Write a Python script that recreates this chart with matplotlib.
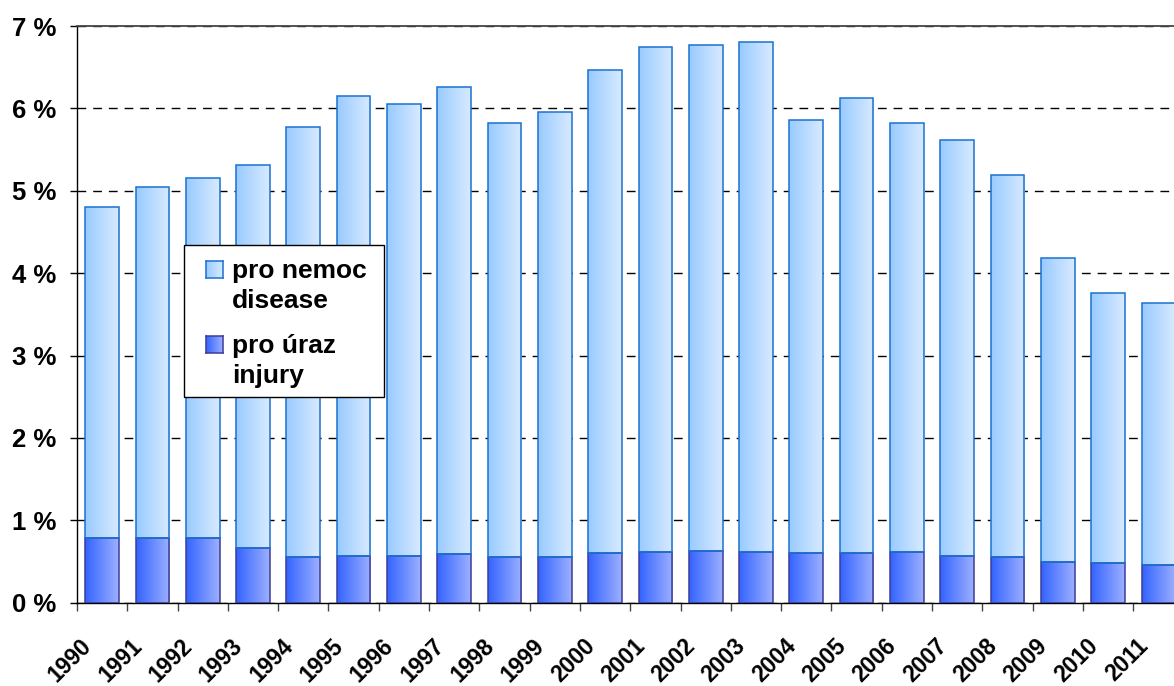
import numpy as np
import matplotlib
matplotlib.use("Agg")
import matplotlib.pyplot as plt
from matplotlib.colors import LinearSegmentedColormap
from matplotlib.patches import Rectangle
from matplotlib.ticker import FixedLocator, FuncFormatter
from matplotlib.transforms import ScaledTranslation

plt.rcParams['font.family'] = ['Liberation Sans', 'DejaVu Sans']

# data (% of working time)
years = [str(y) for y in range(1990, 2012)]
injury = [0.79, 0.79, 0.78, 0.66, 0.56, 0.57, 0.57, 0.59, 0.56, 0.56, 0.60,
          0.61, 0.63, 0.62, 0.60, 0.60, 0.62, 0.57, 0.55, 0.50, 0.48, 0.46]
disease = [4.01, 4.25, 4.37, 4.65, 5.21, 5.58, 5.48, 5.67, 5.26, 5.40, 5.86,
           6.14, 6.14, 6.19, 5.26, 5.53, 5.20, 5.05, 4.64, 3.69, 3.28, 3.18]
labels = ["pro nemoc\ndisease", "pro úraz\ninjury"]

W, H = 1174, 686
fig = plt.figure(figsize=(W / 100, H / 100), dpi=100)
ax = fig.add_axes([77 / W, 1 - 602.7 / H, 1 - 77 / W, (602.7 - 26) / H])

cmap_dis = LinearSegmentedColormap.from_list("dis", ["#99cbff", "#d8eaff"])
cmap_inj = LinearSegmentedColormap.from_list("inj", ["#3464ff", "#9cb0ff"])
edge_dis = "#1a72d2"
edge_inj = "#3c3c9a"

x = np.arange(len(years))
width = 0.67
bars_inj = ax.bar(x, injury, width, facecolor="none", edgecolor=edge_inj,
                  linewidth=1.1, zorder=3)
bars_dis = ax.bar(x, disease, width, bottom=injury, facecolor="none",
                  edgecolor=edge_dis, linewidth=1.1, zorder=3)

grad = np.linspace(0, 1, 64).reshape(1, -1)


def fill_gradient(axis, bars, cmap):
    for b in bars:
        bx, by = b.get_x(), b.get_y()
        bw, bh = b.get_width(), b.get_height()
        im = axis.imshow(grad, cmap=cmap, extent=[bx, bx + bw, by, by + bh],
                         aspect="auto", interpolation="bilinear", zorder=2)
        im.set_clip_path(b)


fill_gradient(ax, bars_inj, cmap_inj)
fill_gradient(ax, bars_dis, cmap_dis)

ax.set_xlim(-0.5, 21.31)
ax.set_ylim(0, 7)

# y axis
ax.set_yticks(range(0, 8))
ax.yaxis.set_major_formatter(FuncFormatter(lambda v, p: f"{v:.0f} %"))
ax.tick_params(axis="y", direction="out", length=5, width=1, pad=10,
               labelsize=18.5)
for t in ax.get_yticklabels():
    t.set_fontweight("bold")
ax.yaxis.grid(True, color="black", linewidth=1, linestyle=(0, (6.3, 5)))
ax.set_axisbelow(True)

# x axis: labels at bar centres, tick marks between categories
ax.set_xticks(x)
ax.set_xticklabels(years, rotation=45, ha="right", va="top",
                   rotation_mode="anchor", fontsize=16.5, fontweight="bold")
ax.xaxis.set_minor_locator(FixedLocator(np.arange(-0.5, 22, 1)))
ax.tick_params(axis="x", which="major", length=0, pad=23)
ax.tick_params(axis="x", which="minor", length=5.8, width=1, color="#444444")
shift = ScaledTranslation(-0.22, 0, fig.dpi_scale_trans)
for t in ax.get_xticklabels():
    t.set_transform(t.get_transform() + shift)

ax.spines["right"].set_visible(False)
ax.spines["top"].set_color("#444444")
ax.spines["top"].set_linewidth(1.3)
for s in ("left", "bottom"):
    ax.spines[s].set_color("black")
    ax.spines[s].set_linewidth(1)

# legend drawn by hand (gradient swatches, handle next to first line)
fig.add_artist(Rectangle((184 / W, 1 - 397 / H), 200 / W, 152 / H,
                         transform=fig.transFigure, facecolor="white",
                         edgecolor="black", linewidth=1, zorder=5))
# (swatch top, baseline of last text line) in pixels from the top
entries = [(261, 308, cmap_dis, edge_dis), (336, 383, cmap_inj, edge_inj)]
for (top, base, cmap, ec), lab in zip(entries, labels):
    sw = fig.add_axes([206 / W, 1 - (top + 17) / H, 17 / W, 17 / H])
    sw.set_zorder(6)
    sw.imshow(grad, cmap=cmap, aspect="auto", interpolation="bilinear")
    sw.set_xticks([])
    sw.set_yticks([])
    for s in sw.spines.values():
        s.set_color(ec)
        s.set_linewidth(1.1)
    fig.text(232 / W, 1 - base / H, lab, fontsize=19, fontweight="bold",
             va="baseline", ha="left", linespacing=1.3, zorder=7)

fig.savefig("out.png", dpi=100)
